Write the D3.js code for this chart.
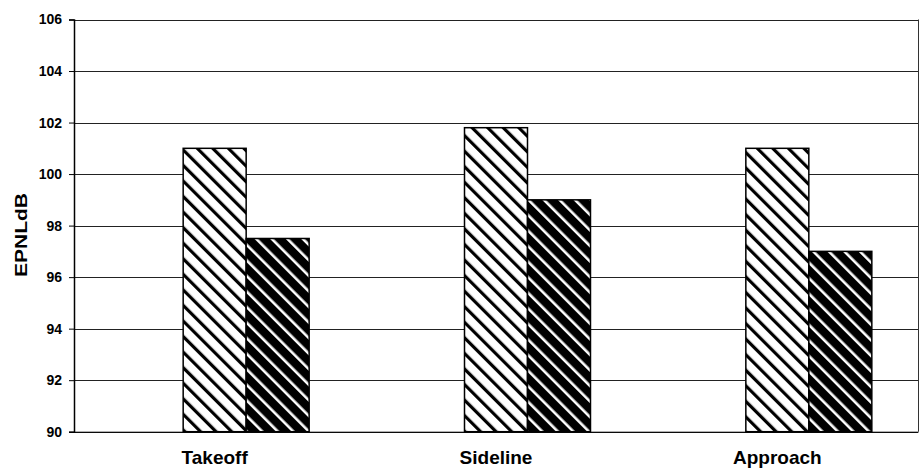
<!DOCTYPE html>
<html><head><meta charset="utf-8">
<script src="https://cdn.jsdelivr.net/npm/d3@7"></script>
<style>body{margin:0;background:#fff} text{font-family:Arial,"Liberation Sans",sans-serif;font-weight:bold;fill:#000}</style>
</head><body><svg id="c" width="922" height="468"></svg>
<script>
const categories = ["Takeoff", "Sideline", "Approach"];
const slots = ["blank", "A", "B"];
const seriesA = [101, 101.8, 101];
const seriesB = [97.5, 99, 97];
const yTicks = [90, 92, 94, 96, 98, 100, 102, 104, 106];
const yLabel = "EPNLdB";

const W = 922, H = 468;
const m = {l: 74, r: 4, t: 19.5, b: 36.3};
const svg = d3.select("#c");
const defs = svg.append("defs");

function stripes(id, bg, fg, period, thick) {
  const p = defs.append("pattern").attr("id", id).attr("patternUnits", "userSpaceOnUse")
    .attr("width", period).attr("height", period).attr("patternTransform", "rotate(-45)");
  p.append("rect").attr("width", period).attr("height", period).attr("fill", bg);
  p.append("rect").attr("x", 0).attr("width", thick).attr("height", period).attr("fill", fg);
}
stripes("hLight", "#fff", "#000", 11, 3.2);
stripes("hDark", "#000", "#fff", 11, 2.6);

const x0 = d3.scaleBand().domain(categories).range([m.l, W - m.r]).padding(0);
const x1 = d3.scaleBand().domain(slots).range([0, x0.bandwidth()]).paddingInner(0).paddingOuter(0.733);
const y = d3.scaleLinear().domain([90, 106]).range([H - m.b, m.t]);

// gridlines
svg.append("g").selectAll("line").data(yTicks).join("line")
  .attr("x1", m.l).attr("x2", W - m.r)
  .attr("y1", d => Math.round(y(d)) + 0.5).attr("y2", d => Math.round(y(d)) + 0.5)
  .attr("stroke", "#222").attr("stroke-width", 1);

// right border
svg.append("line").attr("x1", W - m.r + 0.5).attr("x2", W - m.r + 0.5)
  .attr("y1", y(106)).attr("y2", y(90)).attr("stroke", "#333");

// bars
const g = svg.append("g");
categories.forEach((c, i) => {
  [["A", seriesA[i], "url(#hLight)"], ["B", seriesB[i], "url(#hDark)"]].forEach(([s, v, f]) => {
    g.append("rect")
      .attr("x", x0(c) + x1(s)).attr("width", x1.bandwidth())
      .attr("y", y(v)).attr("height", y(90) - y(v))
      .attr("fill", f).attr("stroke", "#000").attr("stroke-width", 1.5);
  });
});

// y axis
const ya = svg.append("g").attr("transform", `translate(${m.l},0)`)
  .call(d3.axisLeft(y).tickValues(yTicks).tickSize(5).tickPadding(7).tickFormat(d3.format("d")));
ya.select(".domain").attr("stroke", "#000").attr("stroke-width", 1.5);
ya.selectAll(".tick line").attr("stroke", "#000");
ya.selectAll("text").style("font-size", "14px").style("font-family", "Arial, 'Liberation Sans', sans-serif").style("font-weight", "bold");

// x labels
const xa = svg.append("g").attr("transform", `translate(0,${H - m.b})`)
  .call(d3.axisBottom(x0).tickSize(0).tickPadding(19));
xa.select(".domain").attr("stroke", "#000").attr("stroke-width", 1);
xa.selectAll("text").style("font-size", "19px").style("font-family", "Arial, 'Liberation Sans', sans-serif").style("font-weight", "bold");

// y label
svg.append("text").attr("transform", `translate(27,235) rotate(-90)`)
  .attr("text-anchor", "middle").style("font-size", "17px")
  .attr("textLength", 84).attr("lengthAdjust", "spacingAndGlyphs").text(yLabel);
</script></body></html>
